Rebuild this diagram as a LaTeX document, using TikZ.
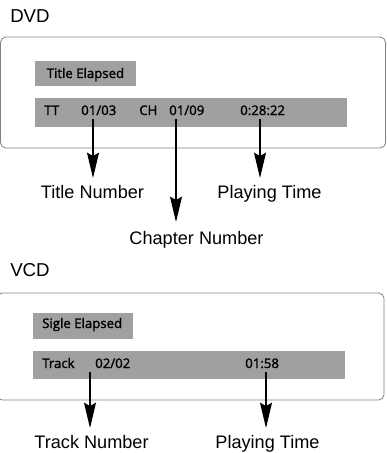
\documentclass[tikz,border=0pt]{standalone}
\usepackage{fontspec}
\setmainfont{Liberation Sans}
\newfontfamily\barfont[FakeBold=1.6]{Open Sans}
\usetikzlibrary{arrows.meta}
\definecolor{bargray}{RGB}{160,160,160}
\definecolor{boxgray}{RGB}{130,130,130}
\begin{document}
\begin{tikzpicture}[x=0.75pt,y=-0.75pt,
  bar/.style={fill=bargray,draw=none,inner sep=0,anchor=north west},
  bartext/.style={inner sep=0,anchor=base west,font=\barfont\fontsize{9.9}{12}\selectfont},
  label/.style={inner sep=0,anchor=base,font=\fontsize{13.6}{16}\selectfont},
  head/.style={inner sep=0,anchor=base west,font=\fontsize{14}{16}\selectfont},
  panel/.style={draw=boxgray,line width=0.6pt,rounded corners=4pt},
  pointer/.style={draw=black,line width=0.9pt,-{Stealth[length=19pt,width=9pt,inset=2.5pt]}}]
\useasboundingbox (0,0) rectangle (386,453);
% DVD
\node[head] (dvd) at (10,23) {DVD};
\draw[panel] (0.5,37) rectangle (385.5,148);
\node[bar,minimum width=101pt*0.75,minimum height=25pt*0.75] (tebar) at (35,61) {};
\node[bar,minimum width=312pt*0.75,minimum height=29pt*0.75] (dvdbar) at (35,98) {};
\node[bartext] (te) at (46.5,78) {Title Elapsed};
\node[bartext] (tt) at (44,115) {TT};
\node[bartext] (tnum) at (81,115) {01/03};
\node[bartext] (ch) at (139,115) {CH};
\node[bartext] (cnum) at (169,115) {01/09};
\node[bartext] (ptime) at (240,115) {0:28:22};
\node[label] (tnl) at (92.5,198) {Title Number};
\node[label] (ptl) at (269.5,198) {Playing Time};
\node[label] (cnl) at (196.5,244.7) {Chapter Number};
\coordinate (a1) at (93,119);
\coordinate (a2) at (176,119);
\coordinate (a3) at (260,119);
\coordinate (t1) at (93,178);
\coordinate (t2) at (176,222);
\coordinate (t3) at (260,178);
\draw[pointer] (a1) -- (t1);
\draw[pointer] (a2) -- (t2);
\draw[pointer] (a3) -- (t3);
% VCD
\node[head] (vcd) at (10,276) {VCD};
\draw[panel] (-3,293) rectangle (384,400);
\node[bar,minimum width=100pt*0.75,minimum height=26pt*0.75] (sebar) at (33,313) {};
\node[bar,minimum width=312pt*0.75,minimum height=28pt*0.75] (vcdbar) at (33,351) {};
\node[bartext] (se) at (42,328) {Sigle Elapsed};
\node[bartext] (trk) at (42,368) {Track};
\node[bartext] (trnum) at (95,368) {02/02};
\node[bartext] (vtime) at (245,368) {01:58};
\node[label] (trl) at (91.5,448.5) {Track Number};
\node[label] (vptl) at (267.5,448.5) {Playing Time};
\coordinate (b1) at (90,372);
\coordinate (b2) at (266,372);
\coordinate (u1) at (90,428);
\coordinate (u2) at (266,428);
\draw[pointer] (b1) -- (u1);
\draw[pointer] (b2) -- (u2);
\end{tikzpicture}
\end{document}
